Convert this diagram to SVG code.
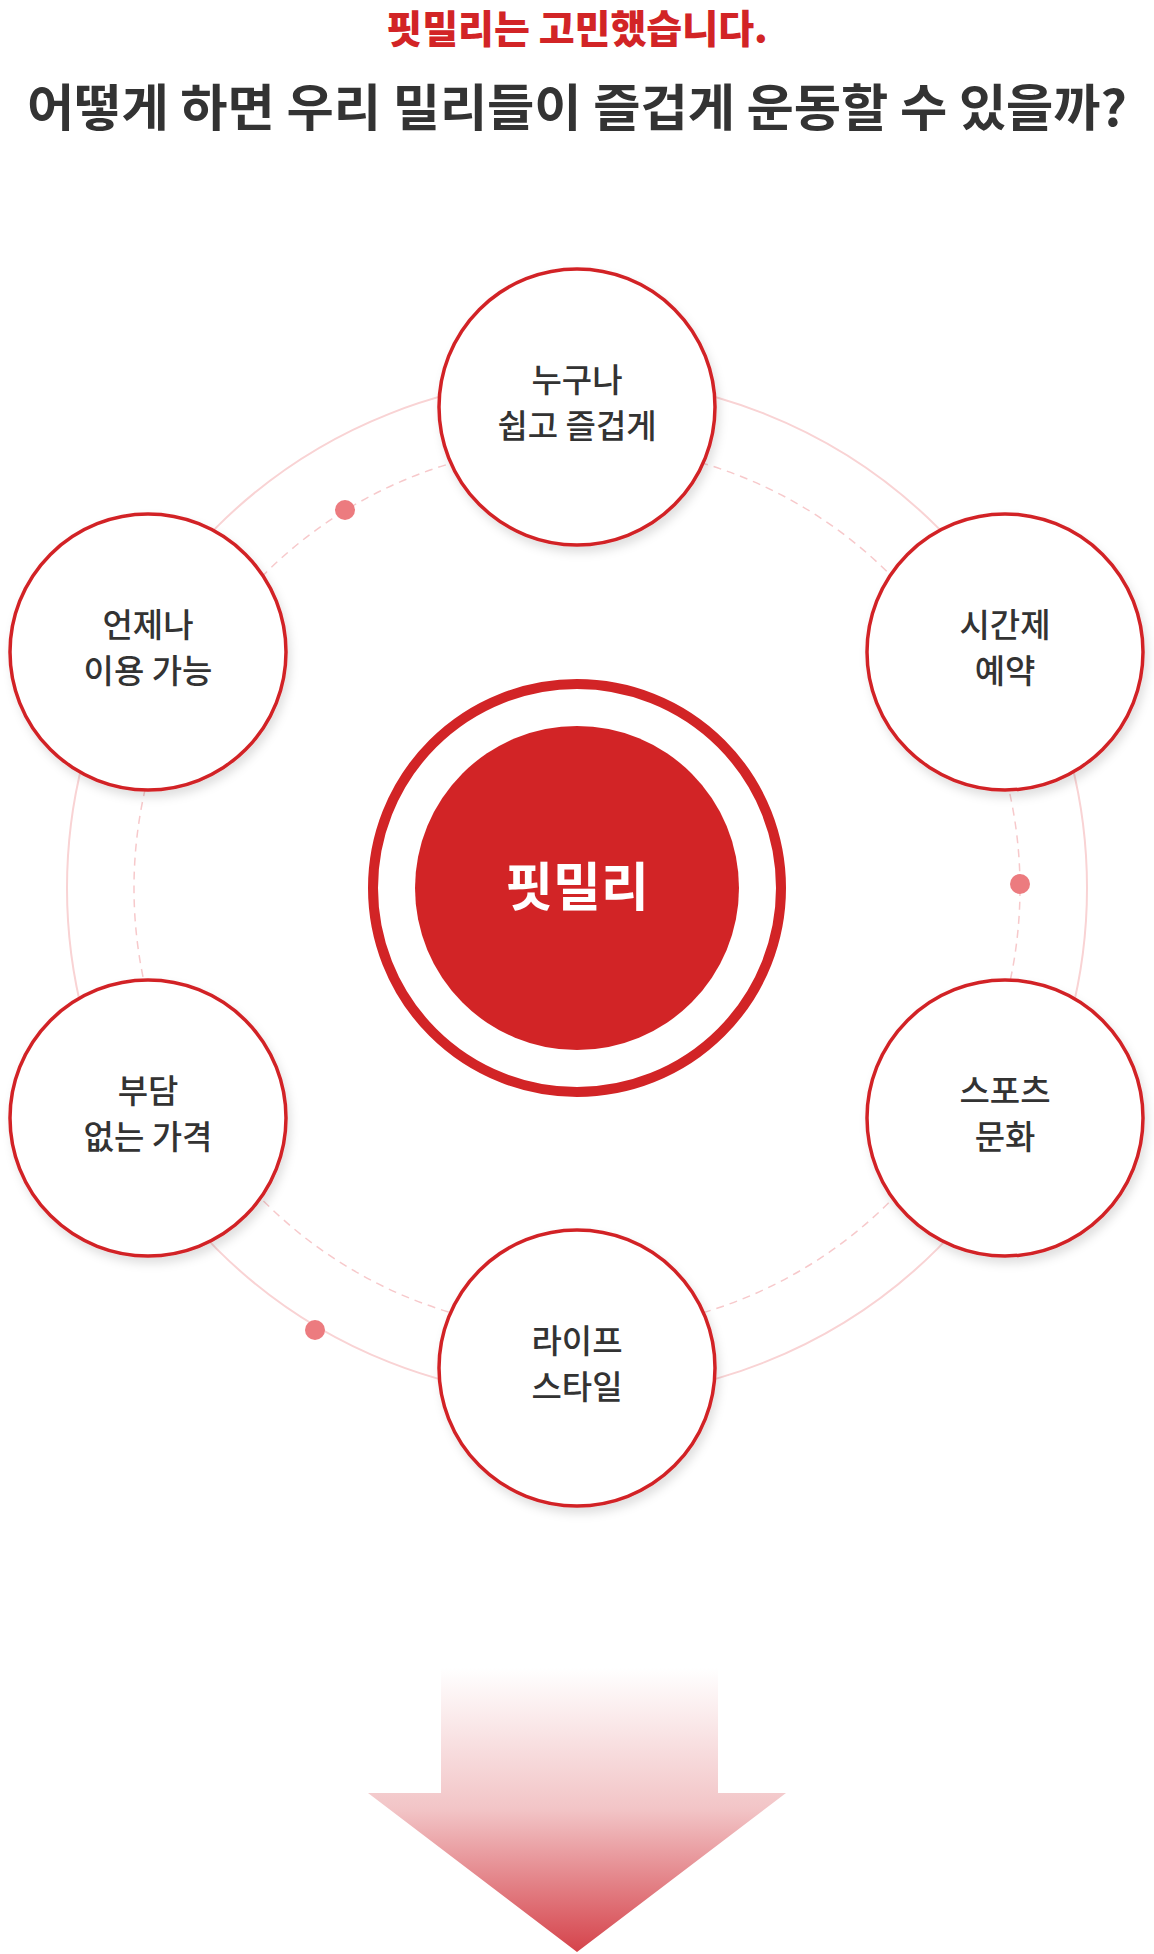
<svg xmlns="http://www.w3.org/2000/svg" width="1154" height="1954" viewBox="0 0 1154 1954">
<style>
.t{font-family:"Noto Sans CJK KR","Noto Sans",sans-serif;text-anchor:middle}
.n{font-size:33px;fill:#333;font-weight:500}
.node{fill:#fff;stroke:#d22426;stroke-width:3.5}
</style>
<defs>
<filter id="sh" x="-20%" y="-20%" width="140%" height="140%"><feDropShadow dx="3" dy="6" stdDeviation="5" flood-color="#000" flood-opacity="0.12"/></filter>
<linearGradient id="ag" x1="0" y1="0" x2="0" y2="1"><stop offset="0" stop-color="#fff"/><stop offset="0.5" stop-color="#f2c4c6"/><stop offset="1" stop-color="#d5434b"/></linearGradient>
</defs>
<rect width="1154" height="1954" fill="#fff"/>
<text class="t" x="577" y="43" font-size="39" font-weight="800" fill="#d22426">핏밀리는 고민했습니다.</text>
<text class="t" x="577" y="126" font-size="50" font-weight="700" fill="#333" textLength="1100" lengthAdjust="spacingAndGlyphs">어떻게 하면 우리 밀리들이 즐겁게 운동할 수 있을까?</text>
<g id="connectors">
<circle cx="577" cy="888" r="510" fill="none" stroke="#f9d3d4" stroke-width="2"/>
<circle cx="577" cy="888" r="443" fill="none" stroke="#f7c9cb" stroke-width="1.5" stroke-dasharray="8 6"/>
<circle cx="345" cy="510" r="10" fill="#ec7b7f"/>
<circle cx="1020" cy="884" r="10" fill="#ec7b7f"/>
<circle cx="315" cy="1330" r="10" fill="#ec7b7f"/>
</g>
<g id="center">
<circle cx="577" cy="888" r="204" fill="#fff" stroke="#d22426" stroke-width="10"/>
<circle cx="577" cy="888" r="162" fill="#d22426"/>
<text class="t" x="577" y="906" font-size="52" font-weight="700" fill="#fff">핏밀리</text>
</g>
<g id="n1"><circle class="node" cx="577" cy="407" r="138" filter="url(#sh)"/><text class="t n" x="577" y="392">누구나</text><text class="t n" x="577" y="438">쉽고 즐겁게</text></g>
<g id="n2"><circle class="node" cx="1005" cy="652" r="138" filter="url(#sh)"/><text class="t n" x="1005" y="637">시간제</text><text class="t n" x="1005" y="683">예약</text></g>
<g id="n3"><circle class="node" cx="1005" cy="1118" r="138" filter="url(#sh)"/><text class="t n" x="1005" y="1103">스포츠</text><text class="t n" x="1005" y="1149">문화</text></g>
<g id="n4"><circle class="node" cx="577" cy="1368" r="138" filter="url(#sh)"/><text class="t n" x="577" y="1353">라이프</text><text class="t n" x="577" y="1399">스타일</text></g>
<g id="n5"><circle class="node" cx="148" cy="1118" r="138" filter="url(#sh)"/><text class="t n" x="148" y="1103">부담</text><text class="t n" x="148" y="1149">없는 가격</text></g>
<g id="n6"><circle class="node" cx="148" cy="652" r="138" filter="url(#sh)"/><text class="t n" x="148" y="637">언제나</text><text class="t n" x="148" y="683">이용 가능</text></g>
<g id="arrow"><path d="M441 1668 H718 V1793 H786 L577 1952 L368 1793 H441 Z" fill="url(#ag)"/></g>
</svg>
